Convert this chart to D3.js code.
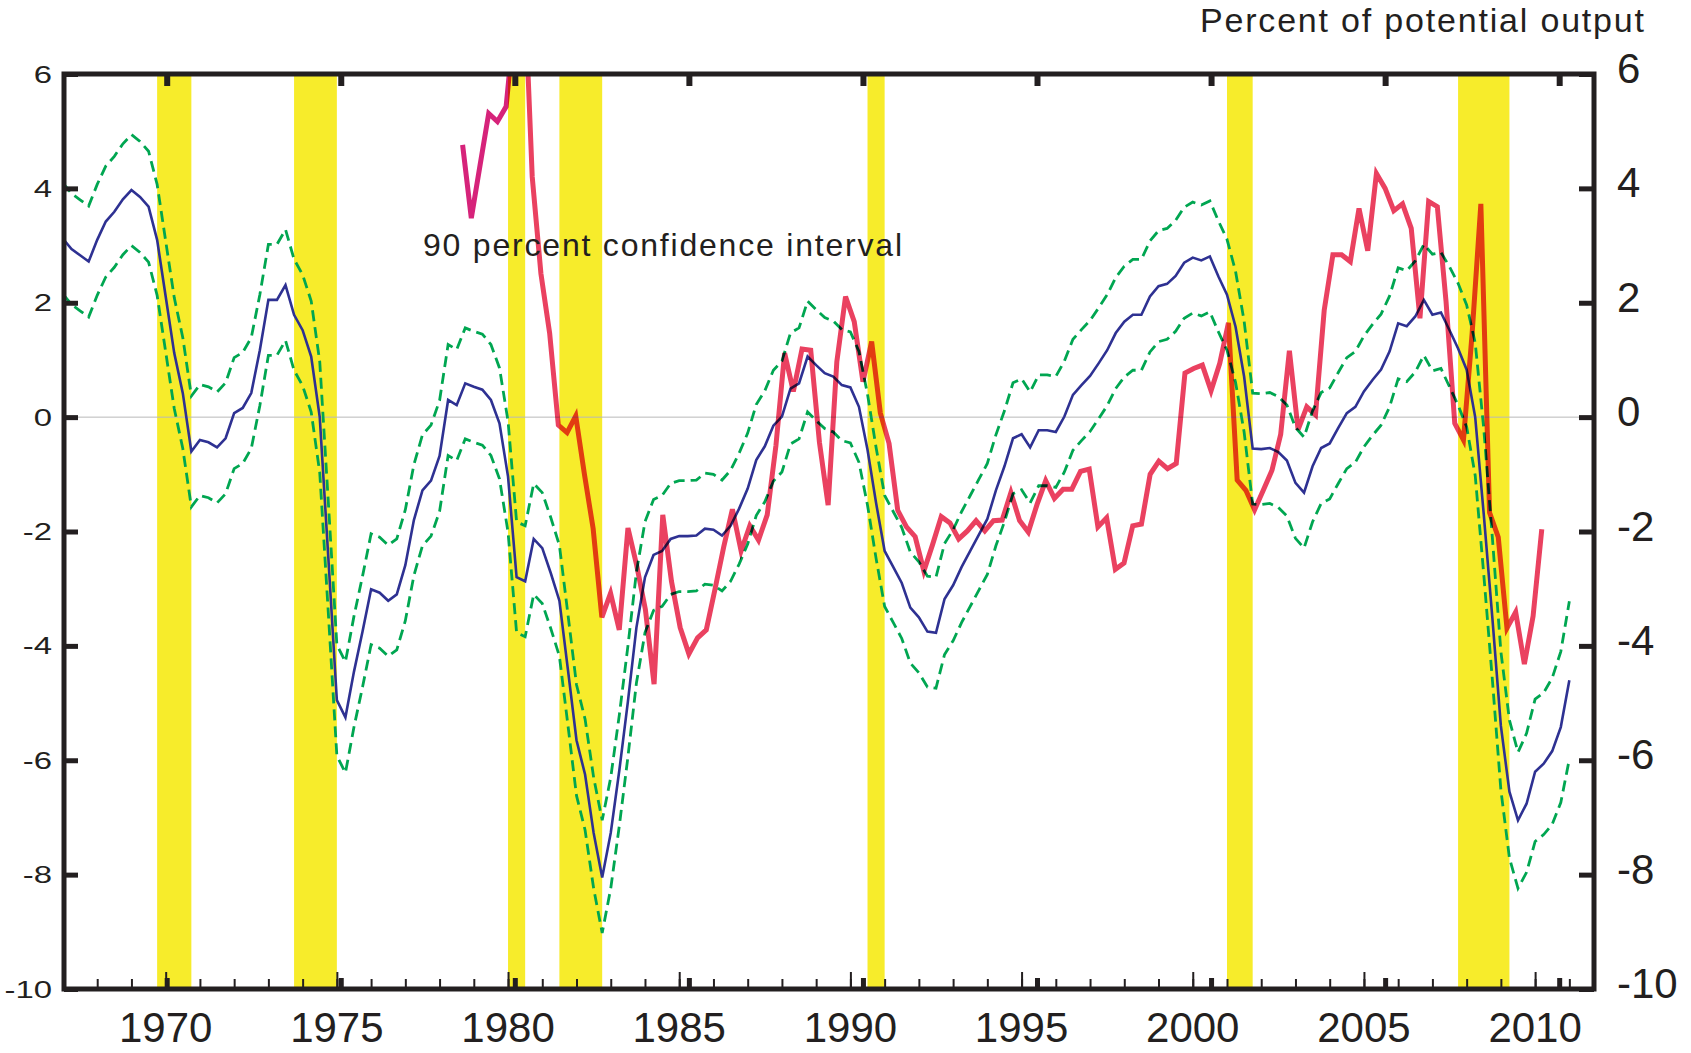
<!DOCTYPE html>
<html>
<head>
<meta charset="utf-8">
<script src="https://cdn.jsdelivr.net/npm/d3@7"></script>
<style>
  body { margin: 0; background: #fff; }
  svg { display: block; font-family: "Liberation Sans", Arial, sans-serif; }
  .series { fill: none; }
  .multiply { mix-blend-mode: multiply; }
</style>
</head>
<body>
<svg id="chart"></svg>
<script>
// Output gap estimate, quarterly from 1967Q1, with its 90 percent band
const gapStart = 1967.0;
const gapEstimate = [
  3.12, 2.94, 2.83, 2.72,   3.10, 3.42, 3.59, 3.81,   3.97, 3.85, 3.68, 3.10,
  2.11, 1.12, 0.42, -0.60,  -0.40, -0.44, -0.53, -0.37, 0.07, 0.16, 0.42, 1.17,
  2.05, 2.05, 2.31, 1.79,   1.52, 1.06, 0.00, -2.45,  -4.95, -5.25, -4.45, -3.75,
  -3.01, -3.07, -3.21, -3.10, -2.59, -1.80, -1.28, -1.11, -0.68, 0.30, 0.21, 0.59,
  0.53, 0.48, 0.30, -0.11,  -1.04, -2.80, -2.87, -2.13, -2.29, -2.73, -3.21, -4.42,
  -5.65, -6.25, -7.27, -8.05, -7.27, -6.18, -4.98, -3.68, -2.80, -2.41, -2.34, -2.13,
  -2.08, -2.08, -2.07, -1.95, -1.97, -2.07, -1.90, -1.60, -1.25, -0.75, -0.51, -0.15,
  0.01, 0.50, 0.59, 1.06,   0.91, 0.77, 0.71, 0.56,   0.52, 0.18, -0.57, -1.50,
  -2.34, -2.62, -2.90, -3.33, -3.50, -3.75, -3.77, -3.18, -2.94, -2.62, -2.34, -2.06,
  -1.78, -1.28, -0.86, -0.37, -0.30, -0.53, -0.23, -0.23, -0.26, 0.01, 0.39, 0.56,
  0.72, 0.94, 1.17, 1.47,   1.67, 1.79, 1.79, 2.11,   2.29, 2.33, 2.47, 2.70,
  2.79, 2.74, 2.81, 2.46,   2.14, 1.58, 0.71, -0.55,  -0.56, -0.54, -0.61, -0.76,
  -1.15, -1.32, -0.86, -0.54, -0.46, -0.19, 0.07, 0.18, 0.45, 0.65, 0.83, 1.15,
  1.64, 1.59, 1.76, 2.05,   1.79, 1.83, 1.52, 1.20,   0.83, 0.00, -1.70, -3.50,
  -5.40, -6.55, -7.05, -6.76, -6.20, -6.06, -5.84, -5.42, -4.60
];
const upperBand = [
  4.09, 3.91, 3.80, 3.69,   4.07, 4.39, 4.56, 4.78,   4.94, 4.82, 4.65, 4.07,
  3.08, 2.09, 1.39, 0.37,   0.57, 0.53, 0.44, 0.60,   1.04, 1.13, 1.39, 2.14,
  3.02, 3.02, 3.28, 2.76,   2.49, 2.03, 0.97, -1.48,  -3.98, -4.28, -3.48, -2.78,
  -2.04, -2.10, -2.24, -2.13, -1.62, -0.83, -0.31, -0.14, 0.29, 1.27, 1.18, 1.56,
  1.50, 1.45, 1.27, 0.86,   -0.07, -1.83, -1.90, -1.16, -1.32, -1.76, -2.24, -3.45,
  -4.68, -5.28, -6.30, -7.05, -6.30, -5.21, -4.01, -2.71, -1.83, -1.44, -1.37, -1.16,
  -1.11, -1.11, -1.10, -0.98, -1.00, -1.10, -0.93, -0.63, -0.28, 0.22, 0.46, 0.82,
  0.98, 1.47, 1.56, 2.03,   1.88, 1.74, 1.68, 1.53,   1.49, 1.15, 0.40, -0.53,
  -1.37, -1.65, -1.93, -2.36, -2.53, -2.78, -2.80, -2.21, -1.97, -1.65, -1.37, -1.09,
  -0.81, -0.31, 0.11, 0.60, 0.67, 0.44, 0.74, 0.74,   0.71, 0.98, 1.36, 1.53,
  1.69, 1.91, 2.14, 2.44,   2.64, 2.76, 2.76, 3.08,   3.26, 3.30, 3.44, 3.67,
  3.76, 3.71, 3.78, 3.43,   3.11, 2.55, 1.68, 0.42,   0.41, 0.43, 0.36, 0.21,
  -0.18, -0.35, 0.11, 0.43, 0.51, 0.78, 1.04, 1.15,   1.42, 1.62, 1.80, 2.12,
  2.61, 2.56, 2.73, 3.02,   2.85, 2.88, 2.63, 2.34,   1.96, 1.30, -0.20, -2.10,
  -4.10, -5.30, -5.86, -5.53, -4.93, -4.82, -4.56, -4.10, -3.22
];
const lowerBand = [
  2.15, 1.97, 1.86, 1.75,   2.13, 2.45, 2.62, 2.84,   3.00, 2.88, 2.71, 2.13,
  1.14, 0.15, -0.55, -1.57, -1.37, -1.41, -1.50, -1.34, -0.90, -0.81, -0.55, 0.20,
  1.08, 1.08, 1.34, 0.82,   0.55, 0.09, -0.97, -3.42,  -5.92, -6.22, -5.42, -4.72,
  -3.98, -4.04, -4.18, -4.07, -3.56, -2.77, -2.25, -2.08, -1.65, -0.67, -0.76, -0.38,
  -0.44, -0.49, -0.67, -1.08, -2.01, -3.77, -3.84, -3.10, -3.26, -3.70, -4.18, -5.39,
  -6.62, -7.22, -8.24, -9.02, -8.24, -7.15, -5.95, -4.65, -3.77, -3.38, -3.31, -3.10,
  -3.05, -3.05, -3.04, -2.92, -2.94, -3.04, -2.87, -2.57, -2.22, -1.72, -1.48, -1.12,
  -0.96, -0.47, -0.38, 0.09, -0.06, -0.20, -0.26, -0.41, -0.45, -0.79, -1.54, -2.47,
  -3.31, -3.59, -3.87, -4.30, -4.47, -4.72, -4.74, -4.15, -3.91, -3.59, -3.31, -3.03,
  -2.75, -2.25, -1.83, -1.34, -1.27, -1.50, -1.20, -1.20, -1.23, -0.96, -0.58, -0.41,
  -0.25, -0.03, 0.20, 0.50, 0.70, 0.82, 0.82, 1.14,   1.32, 1.36, 1.50, 1.73,
  1.82, 1.77, 1.84, 1.49,   1.17, 0.61, -0.26, -1.52, -1.53, -1.51, -1.58, -1.73,
  -2.12, -2.29, -1.83, -1.51, -1.43, -1.16, -0.90, -0.79, -0.52, -0.32, -0.14, 0.18,
  0.67, 0.62, 0.79, 1.08,   0.81, 0.85, 0.53, 0.21,   -0.17, -1.02, -2.75, -4.58,
  -6.52, -7.71, -8.24, -7.96, -7.42, -7.30, -7.12, -6.74, -5.98
];

// Thick red series, quarterly from 1978Q3; it sits on the top (slightly wider) time axis
const cboStart = 1978.5;
const cboGap = [
  4.76, 3.48, 4.40, 5.31, 5.17, 5.43, 7.00, 7.95, 4.20, 2.51,
  1.47, -0.14, -0.27, 0.02, -1.00, -1.95, -3.50, -3.08, -3.72, -1.94,
  -2.59, -3.36, -4.67, -1.71, -2.87, -3.68, -4.14, -3.86, -3.72, -3.01,
  -2.27, -1.61, -2.34, -1.90, -2.15, -1.71, -0.50, 1.12, 0.45, 1.19,
  1.17, -0.44, -1.54, 0.97, 2.11, 1.67, 0.62, 1.32, 0.07, -0.46,
  -1.63, -1.92, -2.09, -2.69, -2.23, -1.74, -1.85, -2.13, -1.99, -1.81,
  -1.99, -1.81, -1.80, -1.32, -1.81, -2.01, -1.53, -1.11, -1.42, -1.26,
  -1.26, -0.95, -0.91, -1.92, -1.76, -2.66, -2.55, -1.90, -1.87, -1.00,
  -0.77, -0.90, -0.81, 0.77, 0.85, 0.91, 0.46, 0.94, 1.65, -1.10,
  -1.28, -1.62, -1.28, -0.93, -0.30, 1.16, -0.22, 0.18, 0.04, 1.87,
  2.84, 2.84, 2.72, 3.65, 2.91, 4.26, 4.00, 3.61, 3.73, 3.30,
  1.73, 3.77, 3.68, 2.02, -0.11, -0.40, 1.47, 3.73, -1.67, -2.10,
  -3.69, -3.41, -4.32, -3.48, -1.96
];
const cboEarlyCount = 7;   // first points are drawn in magenta

const recessions = [
  [1969.75, 1970.75], [1973.75, 1975.0], [1980.0, 1980.5], [1981.5, 1982.75],
  [1990.5, 1991.0], [2001.0, 2001.75], [2007.75, 2009.25]
];
const yTicks = [-10, -8, -6, -4, -2, 0, 2, 4, 6];
const yearLabels = [1970, 1975, 1980, 1985, 1990, 1995, 2000, 2005, 2010];
const yearTicks = d3.range(1968, 2012);

const width = 1691, height = 1053;
const plot = { left: 64, right: 1594, top: 74, bottom: 989 };
const ink = "#231f20";

const svg = d3.select("#chart").attr("width", width).attr("height", height);
svg.append("rect").attr("width", width).attr("height", height).attr("fill", "#fff");

const x = d3.scaleLinear().domain([1967.03, 2011.72]).range([plot.left, plot.right]);
const xCbo = d3.scaleLinear().domain([1967.05, 2011.0]).range([plot.left, plot.right]);
const y = d3.scaleLinear().domain([-10, 6]).range([plot.bottom, plot.top]);

const quarterly = (start, values) => values.map((v, i) => ({ date: start + i / 4, value: v }));

svg.append("clipPath").attr("id", "plot-clip")
  .append("rect")
  .attr("x", plot.left).attr("y", plot.top)
  .attr("width", plot.right - plot.left).attr("height", plot.bottom - plot.top);

const body = svg.append("g").attr("clip-path", "url(#plot-clip)");

// recession shading
body.selectAll("rect.recession")
  .data(recessions)
  .join("rect")
  .attr("class", "recession")
  .attr("x", d => x(d[0]))
  .attr("width", d => x(d[1]) - x(d[0]))
  .attr("y", plot.top)
  .attr("height", plot.bottom - plot.top)
  .attr("fill", "#f7ec2b");

body.append("line")
  .attr("x1", plot.left).attr("x2", plot.right)
  .attr("y1", y(0)).attr("y2", y(0))
  .attr("stroke", "#b8b8b8").attr("stroke-width", 1);

const gapLine = d3.line().x(d => x(d.date)).y(d => y(d.value));
const cboLine = d3.line().x(d => xCbo(d.date)).y(d => y(d.value));

[upperBand, lowerBand].forEach(band => {
  body.append("path")
    .datum(quarterly(gapStart, band))
    .attr("class", "series")
    .attr("stroke", "#00a651")
    .attr("stroke-width", 2.8)
    .attr("stroke-dasharray", "11,6")
    .attr("d", gapLine);
});

body.append("path")
  .datum(quarterly(gapStart, gapEstimate))
  .attr("class", "series")
  .attr("stroke", "#2e3192")
  .attr("stroke-width", 2.6)
  .attr("d", gapLine);

// the red line is printed over everything, so it darkens where it crosses
const cbo = quarterly(cboStart, cboGap);
body.append("path")
  .datum(cbo.slice(0, cboEarlyCount))
  .attr("class", "series multiply")
  .attr("stroke", "#d6237a")
  .attr("stroke-width", 5)
  .attr("d", cboLine);
body.append("path")
  .datum(cbo.slice(cboEarlyCount - 1))
  .attr("class", "series multiply")
  .attr("stroke", "#ea4160")
  .attr("stroke-width", 5)
  .attr("d", cboLine);

// frame
svg.append("rect")
  .attr("x", plot.left).attr("y", plot.top)
  .attr("width", plot.right - plot.left).attr("height", plot.bottom - plot.top)
  .attr("fill", "none").attr("stroke", ink).attr("stroke-width", 5);

// yearly ticks along the bottom, pointing up
const tickStyle = (g, w) => {
  g.select(".domain").remove();
  g.selectAll(".tick line").attr("stroke", ink).attr("stroke-width", w);
  g.selectAll(".tick text").remove();
};
svg.append("g")
  .attr("transform", `translate(0,${plot.bottom})`)
  .call(d3.axisTop(x).tickValues(yearTicks).tickSize(10))
  .call(g => tickStyle(g, 2));
svg.append("g")
  .attr("transform", `translate(0,${plot.bottom})`)
  .call(d3.axisTop(x).tickValues(yearLabels).tickSize(17))
  .call(g => tickStyle(g, 2));

// heavy five-year ticks of the second time axis, top and bottom
svg.append("g")
  .attr("transform", `translate(0,${plot.top})`)
  .call(d3.axisBottom(xCbo).tickValues(yearLabels).tickSize(12))
  .call(g => tickStyle(g, 6));
svg.append("g")
  .attr("transform", `translate(0,${plot.bottom})`)
  .call(d3.axisTop(xCbo).tickValues(yearLabels).tickSize(11))
  .call(g => tickStyle(g, 5));

// left and right value ticks
svg.append("g")
  .attr("transform", `translate(${plot.left},0)`)
  .call(d3.axisRight(y).tickValues(yTicks).tickSize(14))
  .call(g => tickStyle(g, 5));
svg.append("g")
  .attr("transform", `translate(${plot.right},0)`)
  .call(d3.axisLeft(y).tickValues(yTicks).tickSize(15))
  .call(g => tickStyle(g, 5));

// year labels
svg.selectAll("text.year")
  .data(yearLabels)
  .join("text")
  .attr("class", "year")
  .attr("x", d => x(d))
  .attr("y", 1042)
  .attr("text-anchor", "middle")
  .attr("font-size", 42)
  .attr("fill", ink)
  .text(d => d);

// small, wide labels on the left
svg.selectAll("text.left")
  .data(yTicks)
  .join("text")
  .attr("class", "left")
  .attr("transform", d => `translate(52,${y(d) + 8.5}) scale(1.4,1)`)
  .attr("text-anchor", "end")
  .attr("font-size", 23.5)
  .attr("fill", ink)
  .text(d => d);

// big labels on the right
svg.selectAll("text.right")
  .data(yTicks)
  .join("text")
  .attr("class", "right")
  .attr("x", 1617)
  .attr("y", d => y(d) + 9)
  .attr("font-size", 42)
  .attr("fill", ink)
  .text(d => d);

svg.append("text")
  .attr("x", 1200).attr("y", 32)
  .attr("font-size", 34)
  .attr("textLength", 444).attr("lengthAdjust", "spacing")
  .attr("fill", ink)
  .text("Percent of potential output");

svg.append("text")
  .attr("x", 423).attr("y", 256)
  .attr("font-size", 32)
  .attr("textLength", 479).attr("lengthAdjust", "spacing")
  .attr("fill", ink)
  .text("90 percent confidence interval");
</script>
</body>
</html>
